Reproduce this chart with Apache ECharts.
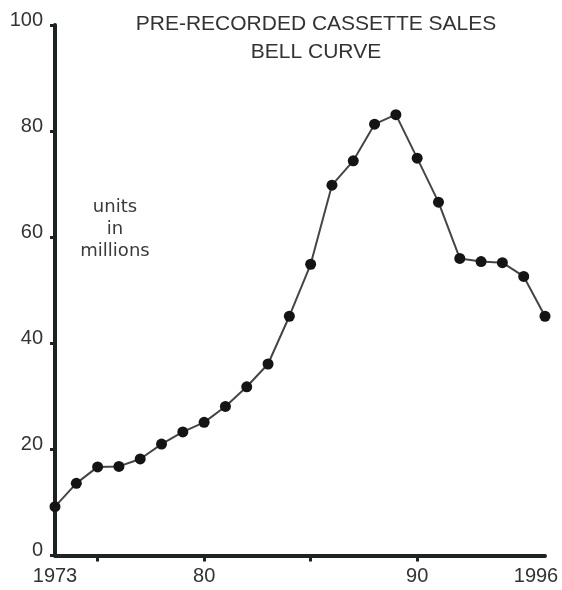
<!DOCTYPE html>
<html>
<head>
<meta charset="utf-8">
<script src="https://cdn.jsdelivr.net/npm/echarts@6/dist/echarts.min.js"></script>
<style>
  html, body { margin: 0; padding: 0; background: #fff; }
  #chart { width: 562px; height: 590px; }
</style>
</head>
<body>
<div id="chart"></div>
<script>
// data
const years = [1973, 1974, 1975, 1976, 1977, 1978, 1979, 1980, 1981, 1982, 1983, 1984,
    1985, 1986, 1987, 1988, 1989, 1990, 1991, 1992, 1993, 1994, 1995, 1996];
const sales = [9.2, 13.6, 16.7, 16.8, 18.2, 21.0, 23.3, 25.1, 28.1, 31.8, 36.1, 45.1,
    54.9, 69.8, 74.4, 81.3, 83.1, 74.9, 66.6, 56.0, 55.4, 55.2, 52.6, 45.1];
const xLabelYears = [1973, 1980, 1990, 1996];
const xTickYears = [1975, 1980, 1985, 1990];

const AXIS_COLOR = '#1c2421';
const TEXT_COLOR = '#333';
const FONT = 'Liberation Sans, Arial, sans-serif';

const chart = echarts.init(document.getElementById('chart'), null, { renderer: 'canvas' });

const option = {
    backgroundColor: '#fff',
    animation: false,
    title: {
        text: 'PRE-RECORDED CASSETTE SALES\nBELL CURVE',
        left: 311,
        top: 5,
        textAlign: 'center',
        textStyle: {
            fontFamily: FONT,
            fontSize: 21,
            fontWeight: 'normal',
            lineHeight: 28,
            color: TEXT_COLOR,
        },
    },
    graphic: [
        {
            type: 'text',
            x: 115,
            y: 196,
            style: {
                text: 'units\nin\nmillions',
                fontFamily: 'DejaVu Sans, sans-serif',
                fontSize: 18,
                lineHeight: 22,
                align: 'center',
                fill: '#3a3a3a',
            },
        },
    ],
    grid: {
        left: 55,
        right: 17,
        top: 25,
        bottom: 34.5,
        outerBoundsMode: 'none',
    },
    xAxis: {
        type: 'value',
        min: 1973,
        max: 1996,
        splitLine: { show: false },
        axisLine: { lineStyle: { color: AXIS_COLOR, width: 4 } },
        axisTick: {
            show: true,
            customValues: xTickYears,
            length: 6,
            lineStyle: { color: AXIS_COLOR, width: 3 },
        },
        axisLabel: {
            customValues: xLabelYears,
            margin: 11,
            fontFamily: FONT,
            fontSize: 20,
            color: TEXT_COLOR,
            formatter: v => {
                if (v === 1973) return '1973';
                if (v === 1996) return '{last|1996}';
                return String(v % 100);
            },
            rich: {
                last: {
                    fontFamily: FONT,
                    fontSize: 20,
                    color: TEXT_COLOR,
                    padding: [0, 18, 0, 0],
                },
            },
        },
    },
    yAxis: {
        type: 'value',
        min: 0,
        max: 100,
        interval: 20,
        splitLine: { show: false },
        axisLine: { show: true, lineStyle: { color: AXIS_COLOR, width: 4 } },
        axisTick: {
            show: true,
            length: 5,
            lineStyle: { color: AXIS_COLOR, width: 3 },
        },
        axisLabel: {
            margin: 12,
            formatter: '{n|{value}}',
            rich: {
                n: {
                    fontFamily: FONT,
                    fontSize: 20,
                    color: TEXT_COLOR,
                    padding: [0, 0, 10, 0],
                },
            },
        },
    },
    series: [
        {
            type: 'line',
            data: years.map((y, i) => [y, sales[i]]),
            symbol: 'circle',
            symbolSize: 11,
            showAllSymbol: true,
            lineStyle: { color: '#454545', width: 2 },
            itemStyle: { color: '#141414', borderWidth: 0 },
            z: 3,
        },
    ],
};

chart.setOption(option);
</script>
</body>
</html>
